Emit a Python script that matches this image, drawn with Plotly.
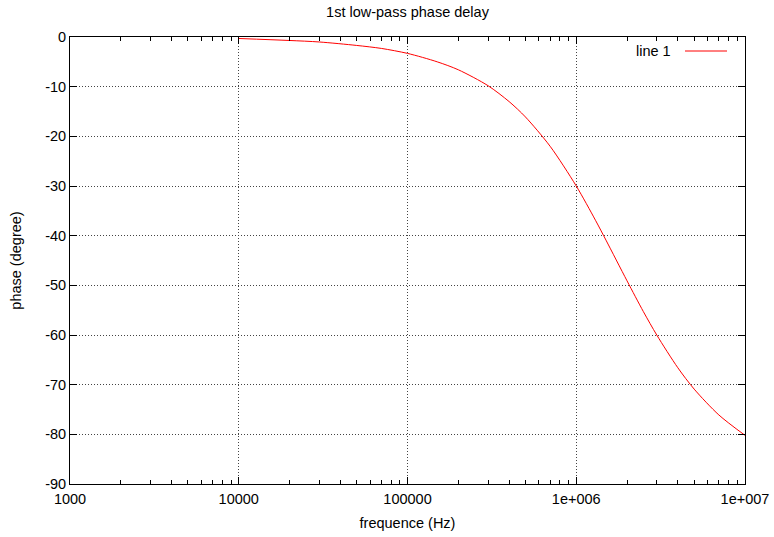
import plotly.graph_objects as go

# Data
freq_hz = [1e4, 2e4, 3e4, 5e4, 7e4, 1e5, 1.5e5, 2e5, 3e5, 4e5, 5e5, 7e5,
           1e6, 1.3e6, 1.5e6, 2e6, 2.5e6, 3e6, 4e6, 5e6, 7e6, 1e7]
phase_deg = [-0.3, -0.7, -1.0, -1.7, -2.3, -3.3, -5.0, -6.6, -9.8, -13.0, -16.1, -22.0,
             -30.0, -36.9, -40.9, -49.1, -55.3, -60.0, -66.6, -70.9, -76.1, -80.2]

x_tickvals = [1e3, 1e4, 1e5, 1e6, 1e7]
x_ticktext = ["1000", "10000", "100000", "1e+006", "1e+007"]
y_tickvals = [0, -10, -20, -30, -40, -50, -60, -70, -80, -90]
y_ticktext = ["0", "-10", "-20", "-30", "-40", "-50", "-60", "-70", "-80", "-90"]

FONT = "Liberation Sans, Arial, sans-serif"
FS = 14.5

fig = go.Figure()
fig.add_trace(go.Scatter(
    x=freq_hz, y=phase_deg, mode="lines", name="line 1",
    line=dict(color="#ff0000", width=1, shape="spline", smoothing=0.8),
    showlegend=False,
))

axis_common = dict(
    showline=True, linecolor="black", linewidth=1, mirror="ticks",
    ticks="inside", tickcolor="black", ticklen=7, tickwidth=1,
    showgrid=True, gridcolor="#444444", griddash="1px,2px", gridwidth=1,
    zeroline=False, automargin=False,
    tickfont=dict(family=FONT, size=FS, color="black"),
    title_font=dict(family=FONT, size=FS, color="black"),
)

fig.update_xaxes(
    type="log", range=[3, 7],
    tickvals=x_tickvals, ticktext=x_ticktext,
    minor=dict(ticks="inside", ticklen=4, tickcolor="black", showgrid=False,
               tickvals=[k * 10 ** e for e in range(3, 7) for k in range(2, 10)]),
    title_text="frequence (Hz)", title_standoff=11, ticklabelstandoff=2,
    **axis_common,
)
fig.update_yaxes(
    range=[-90, 0],
    tickvals=y_tickvals, ticktext=y_ticktext,
    title_text="phase (degree)", title_standoff=20,
    **axis_common,
)

# Legend (gnuplot style: text then sample)
fig.add_annotation(text="line 1", xref="x domain", yref="y domain",
                   x=(673 - 70) / 675, y=1 - (51 - 37) / 447,
                   xanchor="right", yanchor="middle", showarrow=False,
                   font=dict(family=FONT, size=FS, color="black"))
fig.add_shape(type="line", xref="x domain", yref="y domain",
              x0=(685 - 70) / 675, x1=(727 - 70) / 675,
              y0=1 - (51 - 37) / 447, y1=1 - (51 - 37) / 447,
              line=dict(color="#ff0000", width=1))

fig.update_layout(
    width=774, height=537,
    margin=dict(l=70, r=29, t=37, b=53, autoexpand=False),
    paper_bgcolor="white", plot_bgcolor="white",
    title=dict(text="1st low-pass phase delay", x=0.5, xref="paper", xanchor="center",
               y=1 - 12 / 537, yanchor="middle",
               font=dict(family=FONT, size=FS, color="black")),
    font=dict(family=FONT, size=FS, color="black"),
)

fig.write_html("out.html", config={"displayModeBar": False},
               post_script="document.body.style.margin='0';document.body.style.overflow='hidden';")
